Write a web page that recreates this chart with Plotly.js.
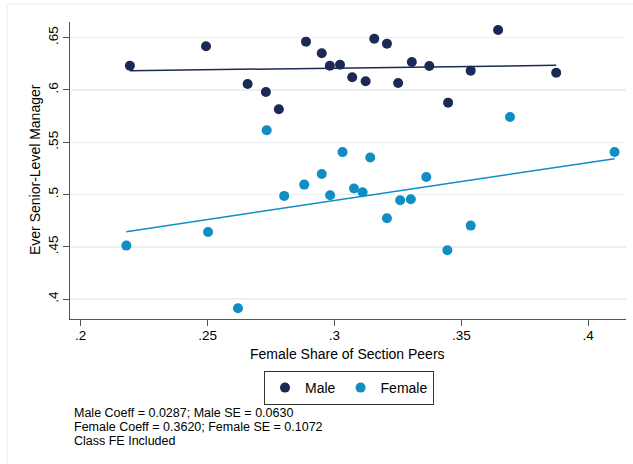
<!DOCTYPE html>
<html>
<head>
<meta charset="utf-8">
<script src="https://cdn.plot.ly/plotly-3.0.1.min.js"></script>
<style>html,body{margin:0;padding:0;background:#fff;}#chart{width:633px;height:464px;}</style>
</head>
<body>
<div id="chart"></div>
<script>
// Male group: section female share vs. ever senior-level manager
const maleX = [0.2194, 0.2494, 0.2658, 0.2730, 0.2781, 0.2888, 0.2950, 0.2982, 0.3022, 0.3070,
               0.3123, 0.3157, 0.3207, 0.3251, 0.3305, 0.3374, 0.3448, 0.3537, 0.3645, 0.3874];
const maleY = [0.6232, 0.6418, 0.6057, 0.5980, 0.5816, 0.6462, 0.6351, 0.6232, 0.6242, 0.6121,
               0.6083, 0.6490, 0.6443, 0.6067, 0.6268, 0.6229, 0.5879, 0.6185, 0.6574, 0.6165];
// Female group
const femaleX = [0.2180, 0.2502, 0.2620, 0.2733, 0.2802, 0.2881, 0.2950, 0.2983, 0.3032, 0.3077,
                 0.3111, 0.3141, 0.3207, 0.3259, 0.3301, 0.3362, 0.3445, 0.3537, 0.3692, 0.4104];
const femaleY = [0.4512, 0.4642, 0.3913, 0.5615, 0.4987, 0.5095, 0.5197, 0.4993, 0.5406, 0.5058,
                 0.5022, 0.5355, 0.4773, 0.4945, 0.4955, 0.5168, 0.4467, 0.4703, 0.5742, 0.5407];
// Fitted lines (endpoints)
const maleFitX = [0.2194, 0.3874];
const maleFitY = [0.6184, 0.6236];
const femaleFitX = [0.2180, 0.4104];
const femaleFitY = [0.4645, 0.5343];
// Tick labels and texts
const xTickVals = [0.2, 0.25, 0.3, 0.35, 0.4];
const xTickText = ['.2', '.25', '.3', '.35', '.4'];
const yTickVals = [0.4, 0.45, 0.5, 0.55, 0.6, 0.65];
const yTickText = ['.4', '.45', '.5', '.55', '.6', '.65'];
const xTitle = 'Female Share of Section Peers';
const yTitle = 'Ever Senior-Level Manager';
const noteLines = ['Male Coeff = 0.0287; Male SE = 0.0630',
                   'Female Coeff = 0.3620; Female SE = 0.1072',
                   'Class FE Included'];

const navy = '#1b2a55';
const blue = '#108dc3';
const FONT = 'Liberation Sans, Arial, Helvetica, sans-serif';

// pixel helpers for paper coordinates
const L = 70, R = 626, T = 22, B = 319;
const px = v => (v - L) / (R - L);
const py = v => (B - v) / (B - T);

const traces = [
  {x: maleX, y: maleY, type: 'scatter', mode: 'markers', name: 'Male',
   marker: {color: navy, size: 10, line: {width: 0}}},
  {x: femaleX, y: femaleY, type: 'scatter', mode: 'markers', name: 'Female',
   marker: {color: blue, size: 10, line: {width: 0}}},
  {x: maleFitX, y: maleFitY, type: 'scatter', mode: 'lines', showlegend: false,
   line: {color: navy, width: 1.5}},
  {x: femaleFitX, y: femaleFitY, type: 'scatter', mode: 'lines', showlegend: false,
   line: {color: blue, width: 1.5}}
];

const annotations = [
  {xref: 'paper', yref: 'paper', x: px(347), y: py(354), xanchor: 'center', yanchor: 'middle',
   text: xTitle, showarrow: false, font: {size: 14, family: FONT, color: '#000'}},
  {xref: 'paper', yref: 'paper', x: px(35), y: py(170), xanchor: 'center', yanchor: 'middle',
   text: yTitle, textangle: -90, showarrow: false, font: {size: 14, family: FONT, color: '#000'}}
];
noteLines.forEach((t, i) => {
  annotations.push({xref: 'paper', yref: 'paper', x: px(72), y: py(413 + 14 * i),
    xanchor: 'left', yanchor: 'middle', text: t, align: 'left', showarrow: false,
    font: {size: 12.5, family: FONT, color: '#000'}});
});

const layout = {
  width: 633, height: 464,
  margin: {l: L, r: 633 - R, t: T, b: 464 - B, pad: 0},
  paper_bgcolor: '#ffffff', plot_bgcolor: '#ffffff',
  font: {family: FONT, color: '#000', size: 13},
  showlegend: true,
  xaxis: {
    range: [0.1958, 0.4149], tickvals: xTickVals, ticktext: xTickText,
    showgrid: false, zeroline: false, showline: true, linecolor: '#555', linewidth: 1,
    ticks: 'outside', ticklen: 6, tickcolor: '#555', tickfont: {size: 13.5, family: FONT},
    ticklabelstandoff: -2
  },
  yaxis: {
    range: [0.381, 0.665], tickvals: yTickVals, ticktext: yTickText, tickangle: -90,
    showgrid: true, gridcolor: '#eaeff2', gridwidth: 1.5,
    zeroline: false, showline: true, linecolor: '#555', linewidth: 1,
    ticks: 'outside', ticklen: 6, tickcolor: '#555', tickfont: {size: 13.5, family: FONT}
  },
  legend: {
    orientation: 'h', x: px(349), xanchor: 'center', y: py(371), yanchor: 'top',
    bordercolor: '#333', borderwidth: 1, bgcolor: '#fff',
    font: {size: 14, family: FONT}, itemwidth: 30, tracegroupgap: 0
  },
  annotations: annotations,
  shapes: [
    {type: 'line', xref: 'paper', yref: 'paper', x0: px(7), x1: px(640), y0: py(4), y1: py(4),
     line: {color: '#e6eaed', width: 1}},
    {type: 'line', xref: 'paper', yref: 'paper', x0: px(7), x1: px(7), y0: py(4), y1: py(470),
     line: {color: '#e6eaed', width: 1}}
  ]
};

Plotly.newPlot('chart', traces, layout, {displayModeBar: false, staticPlot: true});
</script>
</body>
</html>
